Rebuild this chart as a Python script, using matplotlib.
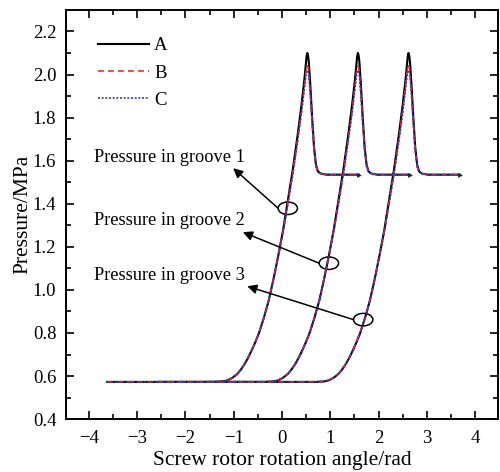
import matplotlib
matplotlib.use("Agg")
import matplotlib.pyplot as plt
import numpy as np
from matplotlib.patches import Ellipse
from matplotlib.ticker import MultipleLocator, FormatStrFormatter

plt.rcParams["font.family"] = ["Liberation Serif", "DejaVu Serif"]

# peak positions of the three grooves (rad)
peak_angles = [0.524, 1.571, 2.618]

# pressure profile relative to each peak (angle offset, rad)
offset = [-4.14, -1.90, -1.75, -1.65, -1.55, -1.45, -1.375, -1.30, -1.225, -1.15,
          -1.075, -1.00, -0.90, -0.80, -0.70, -0.60, -0.50, -0.40, -0.30, -0.20,
          -0.12, -0.06, -0.03, -0.015, 0.00, 0.015, 0.03, 0.06, 0.10, 0.14,
          0.18, 0.22, 0.28, 0.40, 1.07]
pressure_a = [0.573, 0.573, 0.575, 0.580, 0.592, 0.610, 0.630, 0.655, 0.685, 0.720,
              0.758, 0.800, 0.870, 0.950, 1.050, 1.160, 1.280, 1.420, 1.560, 1.720,
              1.860, 1.980, 2.050, 2.085, 2.100, 2.088, 2.060, 1.960, 1.800, 1.660,
              1.580, 1.550, 1.540, 1.535, 1.535]
pressure_b = [0.573, 0.573, 0.575, 0.580, 0.592, 0.610, 0.630, 0.655, 0.685, 0.720,
              0.758, 0.800, 0.870, 0.950, 1.050, 1.160, 1.275, 1.410, 1.545, 1.700,
              1.830, 1.950, 2.010, 2.032, 2.040, 2.033, 2.010, 1.920, 1.780, 1.650,
              1.575, 1.548, 1.540, 1.535, 1.535]
pressure_c = [0.573, 0.573, 0.575, 0.580, 0.592, 0.610, 0.630, 0.655, 0.685, 0.720,
              0.758, 0.800, 0.870, 0.950, 1.050, 1.160, 1.270, 1.400, 1.535, 1.690,
              1.820, 1.935, 1.995, 2.014, 2.020, 2.014, 1.995, 1.910, 1.770, 1.645,
              1.572, 1.547, 1.540, 1.535, 1.535]

labels = ["Pressure in groove 1", "Pressure in groove 2", "Pressure in groove 3"]
label_pos = [(-3.89, 1.616), (-3.89, 1.323), (-3.89, 1.068)]
arrow_head = [(-1.01, 1.565), (-0.81, 1.268), (-0.72, 1.017)]
circle_pos = [(0.12, 1.379), (0.97, 1.124), (1.68, 0.862)]

fig = plt.figure(figsize=(5.0, 4.72), dpi=100)
ax = fig.add_axes([0.132, 0.112, 0.864, 0.867])

styles = [
    ("A", pressure_a, dict(color="black", lw=1.5, ls="-")),
    ("B", pressure_b, dict(color="#ff2020", lw=1.2, ls=(0, (3.5, 2.5)))),
    ("C", pressure_c, dict(color="#2c3fae", lw=1.2, ls=(0, (1.2, 1.0)))),
]
off = np.array(offset)
for name, p, kw in styles:
    for i, pk in enumerate(peak_angles):
        ax.plot(off + pk, p, label=name if i == 0 else None, **kw)

# small arrow heads at the end of each plateau
for pk in peak_angles:
    ax.plot(off[-1] + pk, pressure_a[-1], marker=">", ms=3.5, color="#222244", mec="none")

for (tx, ty), head, (cx, cy), text in zip(label_pos, arrow_head, circle_pos, labels):
    ax.text(tx, ty, text, fontsize=13.2, va="center", ha="left")
    ax.add_patch(Ellipse((cx, cy), 0.40, 0.058, fill=False, ec="black", lw=1.1))
    ax.annotate("", xy=head, xytext=(cx - 0.2, cy),
                arrowprops=dict(arrowstyle="-|>", color="black", lw=1.1,
                                mutation_scale=14, shrinkA=0, shrinkB=0))

ax.set_xlim(-4.47, 4.47)
ax.set_ylim(0.4, 2.3)
ax.xaxis.set_major_locator(MultipleLocator(1))
ax.xaxis.set_minor_locator(MultipleLocator(0.5))
ax.yaxis.set_major_locator(MultipleLocator(0.2))
ax.yaxis.set_minor_locator(MultipleLocator(0.1))
ax.tick_params(which="both", direction="in", top=True, right=True, labelsize=13.5)
ax.tick_params(which="major", length=6, width=1.2)
ax.tick_params(which="minor", length=3.5, width=1.2)
ax.tick_params(axis="x", pad=8)
ax.tick_params(axis="y", pad=7)
ax.yaxis.set_major_formatter(FormatStrFormatter("%.1f"))
for s in ax.spines.values():
    s.set_linewidth(1.4)

ax.set_xlabel("Screw rotor rotation angle/rad", fontsize=15.5, labelpad=3)
ax.set_ylabel("Pressure/MPa", fontsize=15.5, labelpad=0)

ax.legend(loc="upper left", bbox_to_anchor=(0.035, 0.975), frameon=False, fontsize=13.5,
          handlelength=2.7, handletextpad=0.3, labelspacing=0.55)

fig.savefig("out.png", dpi=100)
